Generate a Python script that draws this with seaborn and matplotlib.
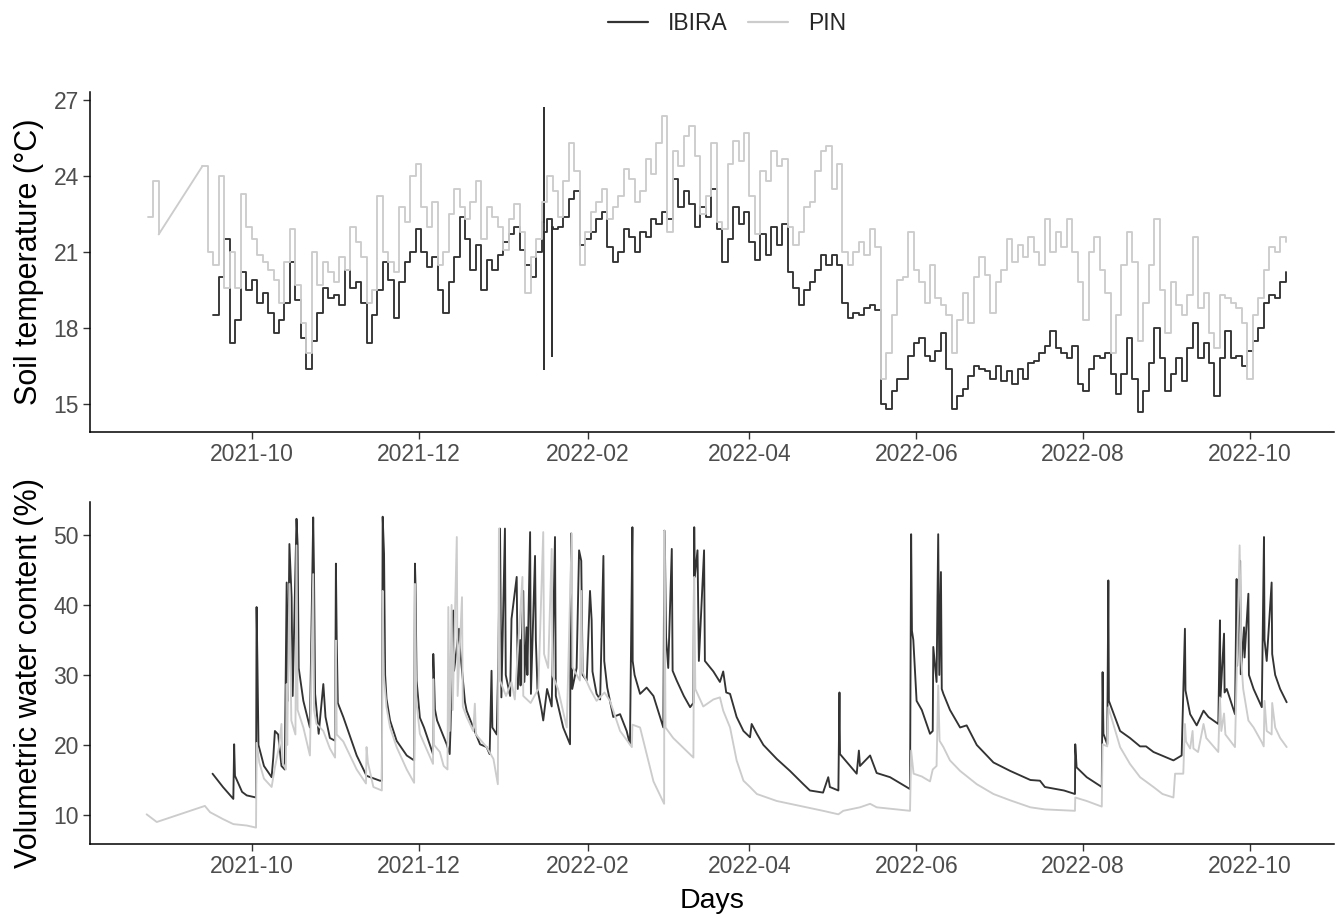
import numpy as np
import pandas as pd
import matplotlib
matplotlib.use("Agg")
import matplotlib.pyplot as plt
import matplotlib.dates as mdates
from matplotlib.lines import Line2D
import seaborn as sns

nan = np.nan
ORIGIN = pd.Timestamp("2021-10-01")

# ---------------- Soil temperature (2-day grid, 2021-08-24 .. 2022-10-14) ----------------
temp_dates = pd.date_range("2021-08-24", "2022-10-14", freq="2D")
temp_pin = [
    22.4, 23.8, 21.7, nan, nan, nan, nan, nan, nan, nan,
    24.4, 21.0, 20.5, 24.0, 19.6, 21.0, 19.6, 23.3, 22.0, 21.5,
    20.9, 20.6, 20.3, 19.9, 19.0, 20.6, 21.9, 19.7, 18.2, 17.0,
    21.0, 19.7, 20.6, 20.2, 19.8, 20.8, 20.3, 22.0, 21.4, 20.8,
    19.0, 19.5, 23.2, 21.0, 20.6, 20.2, 22.8, 22.2, 24.0, 24.5,
    22.8, 22.0, 23.0, 20.5, 21.0, 22.5, 23.5, 22.8, 22.3, 23.0,
    23.8, 21.5, 22.8, 22.4, 22.0, 21.1, 22.3, 22.9, 21.8, 19.4,
    20.8, 21.5, 23.0, 24.0, 23.4, 22.4, 23.8, 25.3, 24.2, 20.5,
    21.8, 22.6, 23.0, 23.5, 22.3, 22.8, 23.2, 24.3, 23.9, 23.0,
    23.4, 24.7, 24.1, 25.3, 26.4, 21.8, 25.0, 24.4, 25.6, 26.0,
    24.8, 22.5, 23.2, 25.3, 22.2, 21.9, 24.5, 25.4, 24.6, 25.7,
    23.2, 21.7, 24.2, 23.8, 25.0, 24.4, 24.7, 22.0, 21.3, 21.8,
    22.8, 23.0, 24.2, 25.0, 25.2, 23.5, 24.5, 21.0, 20.5, 21.0,
    21.4, 20.9, 21.9, 21.2, 16.0, 17.0, 18.5, 19.9, 20.0, 21.8,
    20.3, 19.8, 19.0, 20.5, 19.2, 18.9, 18.5, 17.0, 18.3, 19.4,
    18.2, 20.0, 20.8, 20.1, 18.6, 19.8, 20.3, 21.5, 20.6, 21.3,
    20.8, 21.6, 21.0, 20.5, 22.3, 21.0, 21.8, 21.2, 22.3, 21.0,
    19.8, 18.3, 21.0, 21.6, 20.3, 19.4, 17.0, 18.5, 20.5, 21.8,
    20.6, 17.5, 19.0, 20.5, 22.3, 19.5, 17.8, 19.8, 18.9, 18.5,
    19.3, 21.6, 18.8, 19.4, 17.8, 17.2, 19.3, 19.2, 19.0, 18.8,
    18.2, 16.0, 18.5, 19.2, 20.3, 21.2, 21.0, 21.6, 21.4,
]
temp_ibira = [
    nan, nan, nan, nan, nan, nan, nan, nan, nan, nan,
    nan, nan, 18.5, 20.0, 21.5, 17.4, 18.3, 20.2, 19.5, 19.9,
    19.0, 19.4, 18.6, 17.8, 18.3, 19.0, 20.6, 19.1, 17.6, 16.4,
    17.5, 18.6, 19.6, 19.2, 19.3, 18.9, 20.3, 19.6, 19.8, 19.0,
    17.4, 18.5, 19.5, 20.6, 19.9, 18.4, 19.8, 20.6, 21.0, 21.9,
    21.0, 20.4, 20.8, 19.5, 18.6, 19.8, 20.8, 22.4, 21.5, 20.3,
    21.3, 19.5, 20.7, 20.3, 20.9, 21.4, 21.7, 22.0, 21.1, 20.5,
    20.0, 21.0, 22.2, 22.3, 21.9, 22.0, 22.4, 23.1, 23.4, 21.3,
    21.5, 21.8, 22.3, 22.6, 21.2, 20.6, 21.0, 21.9, 21.6, 21.0,
    21.8, 21.6, 22.3, 22.1, 22.6, 22.3, 23.9, 22.8, 23.4, 22.9,
    22.0, 22.8, 22.4, 23.5, 21.9, 20.6, 21.5, 22.8, 22.1, 22.6,
    21.4, 20.7, 21.7, 20.9, 22.0, 21.3, 22.1, 20.2, 19.6, 18.9,
    19.5, 19.8, 20.3, 20.9, 20.5, 20.9, 20.5, 19.0, 18.4, 18.6,
    18.5, 18.8, 18.9, 18.7, 15.0, 14.8, 15.5, 16.0, 16.0, 16.9,
    17.4, 17.6, 16.9, 16.7, 17.1, 17.8, 16.4, 14.8, 15.3, 15.6,
    16.1, 16.5, 16.4, 16.3, 16.0, 16.5, 15.9, 16.3, 15.8, 16.4,
    16.0, 16.6, 16.7, 17.0, 17.3, 17.9, 17.2, 17.0, 16.8, 17.3,
    15.8, 15.5, 16.4, 16.9, 16.8, 17.0, 16.2, 15.4, 16.2, 17.6,
    16.0, 14.7, 15.5, 16.6, 18.0, 16.8, 15.5, 16.2, 16.8, 15.9,
    17.2, 18.2, 16.8, 17.4, 16.6, 15.3, 16.8, 17.9, 16.8, 16.9,
    16.5, 17.1, 17.5, 18.0, 19.0, 19.3, 19.2, 19.8, 20.2,
]
# isolated sensor readings in January 2022 (days after 2021-10-01)
temp_ibira_spike_days = [106.9, 106.95, 107.0, 109.9, 109.95]
temp_ibira_spike_vals = [26.7, 16.4, 21.8, 16.9, 22.0]

# ---------------- Volumetric water content (days after 2021-10-01) ----------------
vwc_ibira_days = [
    -14.3, -10.5, -6.7, -6.4, -6.1, -3.5, -1.8, 1.6, 1.8, 2.1, 2.5, 4.5, 7.3, 7.9, 8.5,
    9.7, 10.9, 12.1, 12.8, 13.2, 13.8, 14.6, 15.0, 16.4, 16.8, 17.2, 18.9, 21.3, 22.5,
    22.8, 23.2, 24.5, 26.2, 27.0, 28.6, 30.5, 30.8, 31.1, 31.5, 33.5, 38.4, 42.0, 46.9,
    47.6, 47.9, 48.4, 48.8, 49.3, 50.6, 53.0, 56.7,
    59.4, 59.7, 59.9, 60.3, 61.5, 63.0, 66.3, 66.4, 66.7, 67.0, 67.8, 71.3, 72.4, 72.7,
    73.7, 74.0, 75.8, 76.1, 78.0, 78.6, 81.0, 83.5, 85.9, 87.0, 87.7, 88.0, 89.6, 90.2,
    90.8, 91.3, 92.6, 92.9, 94.5, 95.0, 96.9, 97.3, 98.1, 98.3, 99.3, 99.7, 100.5, 100.8,
    101.8, 102.1, 103.6, 103.9, 104.5, 106.0, 106.6, 108.0, 109.7, 110.9, 111.2, 113.9,
    116.4, 116.8, 117.2, 118.8, 119.7, 120.5, 121.0, 122.5, 123.7, 124.3, 124.6, 126.1,
    127.4, 128.6, 128.9, 130.0, 132.2, 134.7, 137.1, 138.3, 139.2, 139.3, 140.0, 142.0,
    144.4, 146.9, 149.3, 150.5, 150.9, 151.1, 151.5, 152.3, 153.6, 153.9, 155.4, 158.0,
    160.3, 161.5, 161.8, 162.0, 163.0, 163.5, 165.4, 165.7, 168.8, 171.2,
    172.4, 173.5, 174.9, 177.3, 179.8, 182.2, 182.8, 184.7, 187.1, 192.0, 196.8, 201.7,
    204.1, 208.9, 210.8, 211.4, 214.5, 214.9, 215.1, 221.2, 222.0, 222.4, 226.1, 228.5,
    233.4, 240.7, 241.1, 241.4, 241.9, 243.1, 245.0, 248.0, 249.0, 249.2, 250.4, 251.0,
    251.4, 252.0, 252.3, 252.9, 255.3, 259.0, 261.4, 265.1, 271.2, 277.3, 284.7,
    288.2, 290.0, 297.0, 301.0, 301.1, 301.6, 305.3, 310.8, 311.1, 311.4, 312.8, 313.2,
    313.4, 317.5, 321.1, 324.8, 327.0, 329.7, 337.0, 340.0, 341.2, 341.4, 343.1, 345.5,
    348.0, 349.8, 353.4, 354.0, 354.2, 355.5, 355.7, 356.5, 359.5, 360.1, 360.3, 361.4,
    361.6, 362.8, 363.0, 364.4, 364.6, 366.3, 369.3, 370.1, 370.3, 371.1, 372.9, 373.1,
    374.2, 376.0, 378.4,
]
vwc_ibira = [
    15.9, 14.0, 12.3, 20.1, 15.6, 13.3, 12.8, 12.5, 39.7, 32.0, 20.0, 17.0, 15.4, 18.2, 22.0,
    21.5, 17.0, 16.5, 43.2, 26.3, 48.7, 41.1, 27.0, 52.3, 48.7, 31.0, 26.3, 22.5, 52.5,
    44.4, 27.3, 21.6, 28.7, 24.0, 21.0, 20.6, 45.9, 34.9, 26.0, 24.0, 18.5, 15.6, 14.9,
    14.9, 52.6, 47.3, 30.0, 26.6, 23.5, 20.6, 18.5,
    17.8, 45.9, 43.0, 29.2, 23.9, 22.5, 18.7, 33.0, 29.4, 25.1, 23.5, 20.1, 18.7, 22.3,
    39.2, 30.6, 36.6, 34.0, 26.1, 24.9, 22.5, 20.1, 19.7, 18.7, 30.6, 22.5, 21.5, 32.5,
    50.9, 26.8, 50.9, 30.0, 27.0, 38.0, 44.0, 28.0, 35.0, 28.5, 42.0, 29.0, 36.8, 30.0,
    50.4, 27.3, 47.0, 35.0, 28.0, 25.0, 23.5, 28.0, 25.5, 49.7, 27.0, 22.5,
    20.1, 50.2, 28.0, 31.0, 47.8, 46.3, 30.0, 29.2, 42.0, 37.8, 30.5, 27.3,
    26.5, 47.0, 32.0, 28.2, 24.0, 24.4, 22.0, 20.1, 51.1, 32.0, 30.0, 27.3,
    28.2, 27.0, 24.0, 22.5, 50.6, 48.0, 35.4, 31.0, 48.0, 30.6, 29.2, 27.0,
    25.4, 26.0, 51.1, 44.0, 47.8, 32.0, 47.8, 32.0, 30.5, 29.0,
    30.5, 27.5, 27.3, 24.0, 22.0, 21.1, 23.0, 21.6, 20.0, 18.0, 16.3, 14.4,
    13.5, 13.2, 15.4, 14.0, 13.5, 27.5, 18.7, 15.9, 19.2, 17.0, 18.5, 16.0,
    15.4, 13.7, 50.1, 36.3, 35.0, 26.3, 25.0, 21.6, 22.0, 34.0, 29.0, 50.1,
    30.0, 44.7, 28.0, 27.3, 25.0, 22.5, 22.8, 20.0, 17.5, 16.3, 15.0,
    14.9, 14.0, 13.5, 13.0, 20.1, 16.8, 15.4, 14.0, 30.4, 21.6, 20.1, 43.5,
    26.3, 22.0, 21.0, 19.8, 19.8, 19.0, 17.8, 18.5, 36.6, 27.8, 24.4, 22.8,
    24.9, 24.0, 23.0, 37.8, 26.8, 35.9, 27.5, 28.0, 24.4, 43.7, 31.3, 46.3,
    30.1, 36.8, 32.5, 41.6, 30.0, 28.0, 25.4, 49.7, 35.0, 32.0, 43.2, 33.0,
    30.0, 28.0, 26.1,
]
vwc_pin_days = [
    -38.4, -34.7, -17.1, -15.2, -10.4, -6.7, -1.8, 1.6, 1.8, 2.8, 4.5, 7.3, 8.5, 10.0,
    10.9, 11.3, 12.5, 12.8, 13.0, 13.8, 14.5, 16.0, 16.4, 16.8, 18.9, 21.3, 22.5, 22.8,
    23.7, 26.2, 28.6, 30.5, 30.8, 31.1, 33.5, 38.4, 41.8, 42.0, 42.5, 44.5, 47.6, 47.9,
    48.3, 49.3, 50.6, 53.0, 56.7,
    59.4, 59.7, 60.2, 61.5, 66.3, 66.4, 66.7, 68.8, 70.2, 71.6, 71.9, 72.4, 73.1, 73.5,
    75.0, 75.3, 76.9, 77.2, 78.6, 81.0, 81.6, 82.0, 85.9, 88.4, 90.0, 90.4, 90.8, 93.0,
    95.0, 96.2, 99.0, 99.3, 102.0, 104.8, 106.6, 106.9, 108.4, 109.7, 110.0, 112.0,
    115.2, 117.0, 117.3, 120.0, 120.5, 120.9, 123.7, 126.1, 129.0, 131.0, 134.7, 139.0,
    139.2, 142.0, 146.9, 150.8, 150.9, 151.3, 154.1, 161.5, 161.8, 162.2, 165.1, 168.8,
    171.2,
    172.4, 174.9, 177.3, 179.8, 182.2, 184.7, 192.0, 196.8, 204.1, 208.9, 214.5, 216.3,
    222.4, 226.1, 228.5, 240.7, 241.1, 242.0, 245.0, 248.0, 249.0, 250.4, 251.0, 251.5,
    252.9, 255.3, 259.0, 265.1, 271.2, 277.3, 284.7,
    290.0, 301.0, 301.1, 305.3, 310.8, 311.1, 312.8, 313.2, 317.5, 321.1, 324.8, 329.7,
    333.0, 337.0, 337.6, 340.6, 341.2, 341.6, 343.1, 344.0, 344.3, 346.0, 348.0, 349.0,
    353.4, 354.0, 354.5, 355.5, 356.0, 359.5, 361.2, 361.4, 361.8, 362.5, 364.4, 366.3,
    369.3, 370.0, 370.3, 371.1, 372.9, 373.1, 374.2, 376.0, 378.4,
]
vwc_pin = [
    10.1, 9.0, 11.3, 10.4, 9.4, 8.7, 8.5, 8.2, 20.3, 17.5, 15.2, 14.0, 16.8, 19.7,
    23.0, 17.5, 16.5, 28.7, 20.0, 43.0, 23.5, 21.5, 48.5, 25.0, 22.5, 18.5, 44.4, 25.0,
    23.0, 22.0, 19.5, 18.2, 34.9, 21.5, 20.5, 16.5, 14.5, 19.7, 17.5, 14.0, 13.5, 42.0,
    30.0, 25.4, 22.5, 19.7, 16.5,
    14.6, 43.0, 26.3, 21.6, 17.3, 29.4, 20.0, 19.0, 17.0, 16.5, 39.7, 22.0, 40.0, 25.0,
    49.7, 27.0, 41.1, 25.5, 24.0, 22.0, 25.9, 21.5, 19.7, 18.0, 14.4, 50.9, 29.2, 27.0,
    29.0, 26.5, 44.0, 27.0, 26.0, 28.0, 50.4, 33.0, 31.0, 48.0, 30.0, 28.0,
    22.5, 50.2, 31.1, 29.2, 42.0, 30.5, 28.0, 26.3, 27.5, 26.3, 22.0, 19.7,
    22.9, 22.5, 14.8, 11.6, 50.6, 22.5, 21.0, 18.2, 44.0, 28.0, 25.5, 26.5,
    26.8,
    24.9, 22.5, 17.8, 14.9, 14.0, 13.0, 12.0, 11.6, 11.0, 10.6, 10.1, 10.6,
    11.1, 11.6, 11.1, 10.6, 19.2, 15.9, 15.5, 14.8, 16.5, 17.0, 28.5, 20.6,
    19.7, 17.8, 16.3, 14.4, 13.0, 12.1, 11.1,
    10.8, 10.6, 12.5, 12.0, 11.2, 20.1, 19.8, 25.4, 19.7, 17.3, 15.4, 14.0,
    13.0, 12.5, 15.9, 15.9, 23.0, 20.5, 19.5, 22.0, 19.5, 19.0, 23.0, 21.0,
    19.0, 26.8, 22.0, 24.5, 21.5, 19.7, 48.5, 43.0, 32.0, 28.0, 23.5, 22.5,
    20.4, 19.8, 26.3, 22.0, 21.5, 26.0, 22.5, 21.0, 19.7,
]

SITES = ["IBIRA", "PIN"]
PALETTE = {"IBIRA": "#333333", "PIN": "#CCCCCC"}
LW = 1.35


def days_to_dates(days):
    return ORIGIN + pd.to_timedelta(np.asarray(days, dtype=float), unit="D")


def grid_frame(values, site):
    """Grid series -> rows, with a segment id that changes across missing runs."""
    v = pd.Series(values, dtype=float)
    seg = v.isna().cumsum()
    df = pd.DataFrame({"date": temp_dates, "value": v, "site": site, "segment": seg})
    return df.dropna(subset=["value"])


def gap_connectors(values, site):
    """Straight joins across missing runs (as a line geom would draw them)."""
    v = pd.Series(values, dtype=float)
    rows = []
    valid = np.where(v.notna())[0]
    for a, b in zip(valid[:-1], valid[1:]):
        if b - a > 1:
            rows.append({"date": temp_dates[a], "value": v[a], "site": site, "segment": a})
            rows.append({"date": temp_dates[b], "value": v[b], "site": site, "segment": a})
    return pd.DataFrame(rows, columns=["date", "value", "site", "segment"])


# ---- tidy frames ----
spikes = pd.DataFrame({"date": days_to_dates(temp_ibira_spike_days),
                       "value": temp_ibira_spike_vals, "site": "IBIRA", "segment": 0})
ib = grid_frame(temp_ibira, "IBIRA")
spikes["segment"] = ib["segment"].iloc[0]
temp_df = pd.concat([ib, spikes, grid_frame(temp_pin, "PIN")],
                    ignore_index=True).sort_values(["site", "segment", "date"])
conn_df = pd.concat([gap_connectors(temp_ibira, "IBIRA"), gap_connectors(temp_pin, "PIN")],
                    ignore_index=True)

vwc_df = pd.concat([
    pd.DataFrame({"date": days_to_dates(vwc_ibira_days), "value": vwc_ibira, "site": "IBIRA"}),
    pd.DataFrame({"date": days_to_dates(vwc_pin_days), "value": vwc_pin, "site": "PIN"}),
], ignore_index=True).sort_values(["site", "date"])

# ---- style ----
sns.set_theme(style="ticks")
plt.rcParams["font.family"] = ["Liberation Sans", "DejaVu Sans"]

W, H = 1335, 917
fig = plt.figure(figsize=(W / 100, H / 100), dpi=100)
left, right = 90, 1334
ax1 = fig.add_axes([left / W, 1 - 432 / H, (right - left) / W, (432 - 92) / H])
ax2 = fig.add_axes([left / W, 1 - 844 / H, (right - left) / W, (844 - 502) / H])

# temperature: stepped trace per site, joined straight across data gaps
if len(conn_df):
    sns.lineplot(data=conn_df, x="date", y="value", hue="site", hue_order=SITES,
                 units="segment", palette=PALETTE, estimator=None, sort=True,
                 linewidth=LW, legend=False, ax=ax1)
sns.lineplot(data=temp_df, x="date", y="value", hue="site", hue_order=SITES,
             units="segment", palette=PALETTE, estimator=None, sort=True,
             linewidth=LW, drawstyle="steps-post", legend=False, ax=ax1)

sns.lineplot(data=vwc_df, x="date", y="value", hue="site", hue_order=SITES,
             palette=PALETTE, estimator=None, sort=True, linewidth=LW,
             legend=False, ax=ax2)

xmin = ORIGIN + pd.Timedelta(days=-59.1)
xmax = ORIGIN + pd.Timedelta(days=395.7)
tick_col = "#4D4D4D"
for ax in (ax1, ax2):
    ax.set_xlim(xmin, xmax)
    ax.xaxis.set_major_locator(mdates.MonthLocator(bymonth=[2, 4, 6, 8, 10, 12]))
    ax.xaxis.set_major_formatter(mdates.DateFormatter("%Y-%m"))
    sns.despine(ax=ax)
    for s in ("left", "bottom"):
        ax.spines[s].set_linewidth(1.1)
        ax.spines[s].set_color("black")
    ax.tick_params(axis="both", direction="out", length=5, width=1.0,
                   color="#333333", labelcolor=tick_col, labelsize=16.5, pad=3)
    ax.set_facecolor("white")

ax1.set_ylim(13.89, 27.33)
ax1.set_yticks([15, 18, 21, 24, 27])
ax2.set_ylim(5.86, 54.7)
ax2.set_yticks([10, 20, 30, 40, 50])

ax1.set_xlabel("")
ax1.set_ylabel("Soil temperature (°C)", fontsize=22, color="black")
ax2.set_ylabel("Volumetric water content (%)", fontsize=22, color="black")
ax2.set_xlabel("Days", fontsize=20.5, color="black")
ax1.yaxis.set_label_coords(-0.037, 0.5)
ax2.yaxis.set_label_coords(-0.037, 0.5)
ax2.xaxis.set_label_coords(0.5, -0.128)

handles = [Line2D([], [], color=PALETTE[s], linewidth=1.6) for s in SITES]
fig.legend(handles, SITES, loc="center", bbox_to_anchor=(727 / W, 1 - 24 / H), ncol=2,
           frameon=False, fontsize=16.5, handlelength=1.75, handletextpad=0.85,
           columnspacing=0.9)

fig.savefig("out.png", dpi=100, facecolor="white")
